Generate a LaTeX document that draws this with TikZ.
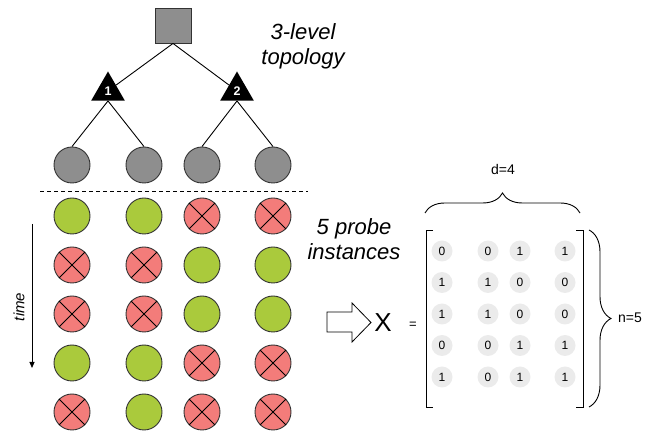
\documentclass[tikz,border=0pt]{standalone}
\usepackage{fontspec}
\setmainfont{Liberation Sans}
\usepackage{xcolor}
\definecolor{probe0}{RGB}{170,202,60}
\definecolor{probe1}{RGB}{243,124,122}
\definecolor{node_gray}{RGB}{142,142,142}
\definecolor{cell_gray}{RGB}{235,235,235}
\usetikzlibrary{shapes.geometric,decorations.pathreplacing,arrows.meta}

\tikzset{
  host/.style={circle, draw=black!80, line width=0.9pt, fill=node_gray, minimum size=36pt, inner sep=0pt},
  probe/.style={circle, draw=black!80, line width=0.9pt, minimum size=36pt, inner sep=0pt},
  router/.style={regular polygon, regular polygon sides=3, fill=black, minimum size=39pt, inner sep=0pt,
    text=white, font=\fontsize{12.5}{12.5}\selectfont\bfseries},
  cell/.style={circle, fill=cell_gray, minimum size=21pt, inner sep=0pt, font=\fontsize{12}{12}\selectfont},
  bigtext/.style={align=center, font=\fontsize{22}{25}\selectfont\itshape},
  link/.style={line width=0.9pt}
}

\begin{document}
\begin{tikzpicture}[x=1pt, y=-1pt]
\useasboundingbox (0,0) rectangle (662,435);

% topology
\node[draw=black!80, line width=0.9pt, fill=node_gray, minimum width=36pt, minimum height=35pt] (root) at (173,25.5) {};
\node[router] (r1) at (108,91) {1};
\node[router] (r2) at (237,91) {2};
\node[host] (h1) at (72,165) {};
\node[host] (h2) at (144,165) {};
\node[host] (h3) at (202,165) {};
\node[host] (h4) at (273,165) {};
\draw[link] (root.south) -- (r1);
\draw[link] (root.south) -- (r2);
\draw[link] (r1.south) -- (h1.north);
\draw[link] (r1.south) -- (h2.north);
\draw[link] (r2.south) -- (h3.north);
\draw[link] (r2.south) -- (h4.north);
\node[bigtext] (toplabel) at (303,46) {3-level\\topology};

\coordinate (cutl) at (40,191);
\coordinate (cutr) at (308,191);
\draw[line width=0.8pt, dash pattern=on 4pt off 3pt] (cutl) -- (cutr);

% probes and matrix
\foreach \row/\a/\b/\c/\d in {1/0/0/1/1, 2/1/1/0/0, 3/1/1/0/0, 4/0/0/1/1, 5/1/0/1/1} {
  \pgfmathsetmacro\gy{216+49*(\row-1)}
  \pgfmathsetmacro\my{251+31.5*(\row-1)}
  \foreach \col/\gx/\mx/\s in {1/72/442/\a, 2/144/488/\b, 3/202/520/\c, 4/273/565/\d} {
    \node[probe, fill=probe\s] (p\row\col) at (\gx,\gy) {};
    \ifnum\s=1
      \draw[link] (p\row\col.north west) -- (p\row\col.south east);
      \draw[link] (p\row\col.north east) -- (p\row\col.south west);
    \fi
    \node[cell] (m\row\col) at (\mx,\my) {\s};
  }
}

\coordinate (tstart) at (32,224);
\coordinate (tend) at (32,368);
\draw[line width=0.8pt, -{Triangle[length=6pt, width=5pt]}] (tstart) -- (tend);
\node[rotate=90, font=\fontsize{15}{15}\selectfont\itshape] (timelabel) at (19,307) {time};

\node[bigtext] (probelabel) at (354,239) {5 probe\\instances};

% X = [ ... ]
\draw[line width=0.8pt] (327,312) -- (352,312) -- (352,303) -- (371,322.5) -- (352,342) -- (352,332) -- (327,332) -- cycle;
\node[font=\fontsize{26}{26}\selectfont] (xname) at (383,323) {X};
\node[font=\fontsize{13}{13}\selectfont] (eqsign) at (413,325) {=};

\coordinate (mtl) at (426,230);
\coordinate (mbr) at (583,407);
\draw[line width=0.9pt] ([xshift=7pt]mtl) -- (mtl) -- (mtl |- mbr) -- ([xshift=7pt]mtl |- mbr);
\draw[line width=0.9pt] ([xshift=-7pt]mbr |- mtl) -- (mbr |- mtl) -- (mbr) -- ([xshift=-7pt]mbr);

\coordinate (dl) at (425,213);
\coordinate (dr) at (580,213);
\draw[line width=0.9pt, decorate, decoration={brace, amplitude=20pt}] (dl) -- (dr);
\node[font=\fontsize{14}{14}\selectfont] (dlabel) at (503,170) {d=4};

\coordinate (nt) at (589,230);
\coordinate (nb) at (589,407);
\draw[line width=0.9pt, decorate, decoration={brace, amplitude=22pt}] (nt) -- (nb);
\node[font=\fontsize{14}{14}\selectfont] (nlabel) at (630,318) {n=5};

\end{tikzpicture}
\end{document}
